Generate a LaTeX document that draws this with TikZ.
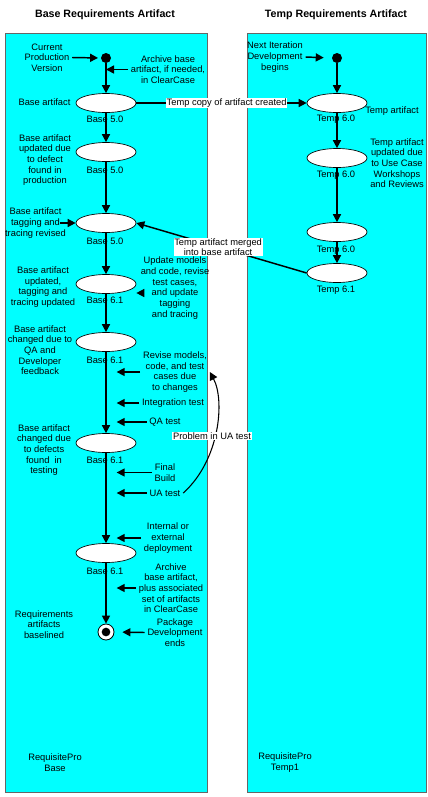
\documentclass[tikz,border=0pt]{standalone}
\usepackage{fontspec}
\setmainfont{Liberation Sans}
\usetikzlibrary{arrows.meta, shapes.geometric}
\definecolor{lanecyan}{RGB}{0,255,255}

\begin{document}
\begin{tikzpicture}[x=0.75pt, y=-0.75pt,
  lane/.style={draw=black!60, fill=lanecyan, line width=0.6pt},
  state/.style={ellipse, draw, fill=white, line width=0.5pt,
    minimum width=45pt, minimum height=14.25pt, inner sep=0pt},
  txt/.style={align=center, font=\fontsize{7}{8}\selectfont, inner sep=2pt},
  tag/.style={txt, fill=white, inner sep=0.5pt},
  arr/.style={-{Triangle[length=6pt, width=6pt]}, line width=1.1pt},
  side/.style={arr, shorten >=8pt},
  dot/.style={circle, fill=black, minimum size=7.5pt, inner sep=0pt}]
  \useasboundingbox (0,0) rectangle (428,797);
  % swimlanes
  \node[font=\bfseries\fontsize{8}{9}\selectfont] (ttlb) at (105,15) {Base Requirements Artifact};
  \node[font=\bfseries\fontsize{8}{9}\selectfont] (ttlt) at (336,15) {Temp Requirements Artifact};
  \draw[lane] (5,33) rectangle (207,792);
  \draw[lane] (247,33) rectangle (426,792);

  % base lane states
  \node[dot] (b0) at (106,58) {};
  \node[state] (b1) at (106,103) {};
  \node[state] (b2) at (106,152) {};
  \node[state] (b3) at (106,223) {};
  \node[state] (b4) at (106,284) {};
  \node[state] (b5) at (106,342) {};
  \node[state] (b6) at (106,443) {};
  \node[state] (b7) at (106,553) {};
  \node[circle, draw, fill=white, line width=0.6pt, minimum size=12pt, inner sep=0pt] (bend) at (106,632) {};
  \node[dot, minimum size=6.5pt] (bendc) at (bend) {};
  \node[txt] (v1) at (105,119) {Base 5.0};
  \node[txt] (v2) at (105,170) {Base 5.0};
  \node[txt] (v3) at (105,241) {Base 5.0};
  \node[txt] (v4) at (105,300) {Base 6.1};
  \node[txt] (v5) at (105,360) {Base 6.1};
  \node[txt] (v6) at (105,460) {Base 6.1};
  \node[txt] (v7) at (105,571) {Base 6.1};

  % base lane texts
  \node[txt] (cur) at (47,57.5) {Current\\Production\\Version};
  \node[txt] (arch1) at (168,69.5) {Archive base\\artifact, if needed,\\in ClearCase};
  \node[txt] (l1) at (44.5,102) {Base artifact};
  \node[txt] (l2) at (45,160) {Base artifact\\updated due\\to defect\\found in\\production};
  \node[txt] (l3) at (35.5,223) {Base artifact\\tagging and\\tracing revised};
  \node[txt] (l4) at (43,287) {Base artifact\\updated,\\tagging and\\tracing updated};
  \node[txt] (upd) at (175,288) {Update models\\and code, revise\\test cases,\\and update\\tagging\\and tracing};
  \node[txt] (l5) at (40,350) {Base artifact\\changed due to\\QA and\\Developer\\feedback};
  \node[txt] (rev) at (175,372) {Revise models,\\code, and test\\cases due\\to changes};
  \node[txt] (integ) at (173,403) {Integration test};
  \node[txt] (qa) at (165,422) {QA test};
  \node[txt] (l6) at (44,450) {Base artifact\\changed due\\to defects\\found\ \ in\\testing};
  \node[txt] (fin) at (165,472.5) {Final\\Build};
  \node[txt] (ua) at (165,493) {UA test};
  \node[txt] (dep) at (168,538) {Internal or\\external\\deployment};
  \node[txt] (arch2) at (171,588) {Archive\\base artifact,\\plus associated\\set of artifacts\\in ClearCase};
  \node[txt] (pkg) at (175,632.5) {Package\\Development\\ends};
  \node[txt] (req) at (44,624.5) {Requirements\\artifacts\\baselined};
  \node[txt] (rpb) at (55,762.5) {RequisitePro\\Base};

  % temp lane
  \node[dot] (t0) at (337,58) {};
  \node[state] (t1) at (337,103) {};
  \node[state] (t2) at (337,158) {};
  \node[state] (t3) at (337,232) {};
  \node[state] (t4) at (337,273) {};
  \node[txt] (w1) at (336,119) {Temp 6.0};
  \node[txt] (w2) at (336,175) {Temp 6.0};
  \node[txt] (w3) at (336,250) {Temp 6.0};
  \node[txt] (w4) at (336,290) {Temp 6.1};
  \node[txt] (nxt) at (275,57) {Next Iteration\\Development\\begins};
  \node[txt] (tname) at (392,111) {Temp artifact};
  \node[txt] (tupd) at (397,163) {Temp artifact\\updated due\\to Use Case\\Workshops\\and Reviews};
  \node[txt] (rpt) at (285,762.5) {RequisitePro\\Temp1};

  % flow
  \draw[arr] (b0) -- (b1);
  \draw[arr] (b1) -- (b2);
  \draw[arr] (b2) -- (b3);
  \draw[arr] (b3) -- (b4);
  \draw[arr] (b4) -- (b5);
  \draw[arr] (b5) -- (b6);
  \draw[arr] (b6) -- (b7);
  \draw[arr] (b7) -- (bend);
  \draw[arr] (t0) -- (t1);
  \draw[arr] (t1) -- (t2);
  \draw[arr] (t2) -- (t3);
  \draw[arr] (t3) -- (t4);

  % side arrows
  \coordinate (c3) at (60,223);
  \coordinate (c4) at (142,293);
  \draw[arr, shorten >=2pt] (cur.east) -- (b0.west);
  \draw[arr] (arch1.west) -- (arch1.west -| b0);
  \draw[arr] (c3) -- (b3.west);
  \draw[arr] (c4) -- (c4 -| b4.east);
  \draw[side] (rev.west) -- (rev.west -| b5);
  \draw[side] (integ.west) -- (integ.west -| b5);
  \draw[side] (qa.west) -- (qa.west -| b5);
  \draw[side] (fin.west) -- (fin.west -| b6);
  \draw[side] (ua.west) -- (ua.west -| b6);
  \draw[side] (dep.west) -- (dep.west -| b7);
  \draw[side] (arch2.west) -- (arch2.west -| b7);
  \draw[arr, shorten >=6pt] (pkg.west) -- (bend.east);
  \draw[arr, shorten >=6pt] (nxt.east) -- (t0.west);

  % between lanes
  \draw[arr] (b1.east) -- (t1.west) node[tag, pos=0.53] (copy) {Temp copy of artifact created};
  \draw[arr] (t4.west) -- (b3.east) node[tag, pos=0.52] (merge) {Temp artifact merged\\into base artifact};
  \draw[arr, line width=0.8pt] (ua.east) .. controls (220,460) and (225,400) .. (rev.east);
  \node[tag] (prob) at (212,436) {Problem in UA test};
\end{tikzpicture}
\end{document}
